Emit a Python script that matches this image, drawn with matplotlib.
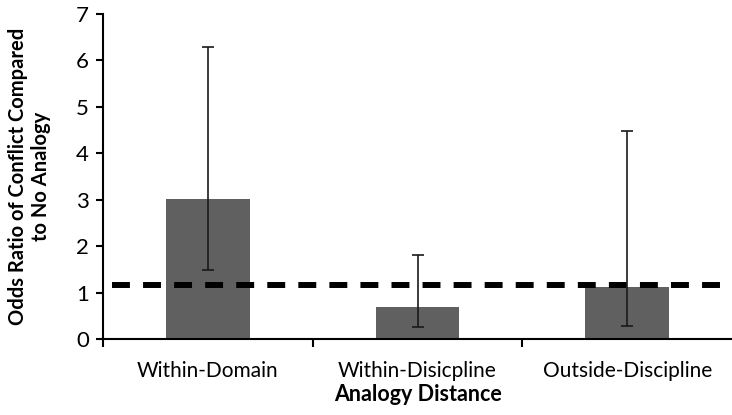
import matplotlib
matplotlib.use("Agg")
import matplotlib.pyplot as plt
import numpy as np

categories = ["Within-Domain", "Within-Disicpline", "Outside-Discipline"]
odds_ratio = [3.02, 0.70, 1.13]
ci_low = [1.48, 0.25, 0.29]
ci_high = [6.28, 1.81, 4.49]
reference_level = 1.17
y_ticks = [0, 1, 2, 3, 4, 5, 6, 7]

plt.rcParams['font.family'] = ['Lato', 'DejaVu Sans']

fig = plt.figure(figsize=(7.32, 4.15), dpi=100)
ax = fig.add_axes([103/732, 1-339/415, 1-103/732, (339-14)/415])

x = np.arange(len(categories))
vals = np.array(odds_ratio)
yerr = np.array([vals - np.array(ci_low), np.array(ci_high) - vals])

ax.bar(x, vals, width=0.4, color="#606060", zorder=2)
ax.plot([-0.455, len(categories) - 0.5], [reference_level, reference_level],
        color="black", lw=4.3, dashes=(3.0, 2.2), zorder=3, solid_capstyle="butt",
        dash_capstyle="butt")
ax.errorbar(x, vals, yerr=yerr, fmt="none", ecolor="#1a1a1a", elinewidth=1.2,
            capsize=4.5, capthick=1.2, zorder=4)

ax.set_xlim(-0.5, len(categories) - 0.5)
ax.set_ylim(0, 7)
ax.set_yticks(y_ticks)
ax.set_xticks(x)
ax.set_xticklabels(categories, fontsize=15)
ax.set_xticks(np.arange(len(categories)) - 0.5, minor=True)
ax.tick_params(axis="x", which="major", length=0, pad=16)
ax.tick_params(axis="x", which="minor", length=6, width=1.5, direction="out")
ax.tick_params(axis="y", which="major", length=5, width=1.5, direction="out",
               labelsize=16, pad=5)

for s in ["top", "right"]:
    ax.spines[s].set_visible(False)
for s in ["left", "bottom"]:
    ax.spines[s].set_linewidth(1.5)

ax.set_xlabel("Analogy Distance", fontsize=15.5, fontweight="bold", labelpad=2)
ax.set_ylabel("Odds Ratio of Conflict Compared\nto No Analogy", fontsize=14.5,
              fontweight="bold", linespacing=1.2)
ax.yaxis.set_label_coords(-0.082, 0.5)

fig.savefig("out.png", dpi=100)
